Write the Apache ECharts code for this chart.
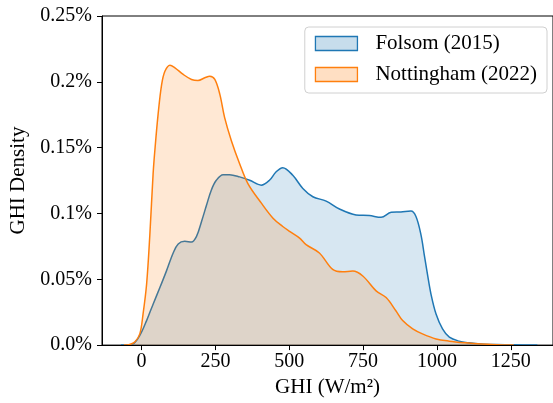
<!DOCTYPE html>
<html>
<head>
<meta charset="utf-8">
<script src="https://cdn.jsdelivr.net/npm/echarts@6/dist/echarts.min.js"></script>
<style>
  html, body { margin: 0; padding: 0; background: #fff; }
  #chart { width: 553px; height: 403px; }
</style>
</head>
<body>
<div id="chart"></div>
<script>
// GHI kernel density estimates (density in %, per W/m²)
const folsomGHI = [-70, -50, -28, -6, 17, 39, 62, 84, 107, 124, 146, 169, 186, 203, 220, 236, 253, 276, 298, 332, 366, 405, 433, 455, 478, 512, 546, 580, 625, 670, 726, 771, 811, 845, 878, 912, 929, 946, 957, 968, 980, 997, 1019, 1042, 1075, 1109, 1150, 1200, 1260, 1340];
const folsomDensity = [0, 0.0002, 0.001, 0.0073, 0.0186, 0.0311, 0.0437, 0.0562, 0.070, 0.0768, 0.0788, 0.0783, 0.0826, 0.0939, 0.1064, 0.1177, 0.1252, 0.1295, 0.1295, 0.1278, 0.1252, 0.1215, 0.1252, 0.1315, 0.1348, 0.129, 0.119, 0.1127, 0.1094, 0.1034, 0.0989, 0.0984, 0.0971, 0.1009, 0.1012, 0.1019, 0.0977, 0.0838, 0.0688, 0.0537, 0.0386, 0.0236, 0.0123, 0.006, 0.003, 0.0017, 0.0008, 0.0004, 0.0002, 0];

const nottinghamGHI = [-60, -40, -23, -6, 5, 17, 28, 39, 45, 56, 68, 79, 96, 113, 141, 169, 191, 214, 231, 248, 265, 281, 304, 332, 360, 405, 445, 478, 501, 535, 557, 602, 647, 681, 715, 749, 794, 828, 861, 884, 918, 951, 997, 1042, 1098, 1150, 1200, 1260];
const nottinghamDensity = [0, 0.0005, 0.0023, 0.0085, 0.0236, 0.0462, 0.0838, 0.130, 0.148, 0.1755, 0.198, 0.208, 0.2126, 0.2106, 0.2056, 0.2018, 0.201, 0.2031, 0.2043, 0.2018, 0.1905, 0.173, 0.1553, 0.1378, 0.1227, 0.108, 0.0964, 0.0901, 0.0864, 0.0813, 0.0763, 0.070, 0.0575, 0.0557, 0.0562, 0.0525, 0.0412, 0.0361, 0.0261, 0.0186, 0.0123, 0.0085, 0.0047, 0.003, 0.0017, 0.0008, 0.0003, 0];

const seriesNames = ['Folsom (2015)', 'Nottingham (2022)'];
const xTicks = [0, 250, 500, 750, 1000, 1250];
const yTickLabels = ['0.0%', '0.05%', '0.1%', '0.15%', '0.2%', '0.25%'];

const FONT = "'Liberation Serif', 'Times New Roman', serif";
const blue = '#1f77b4', orange = '#ff7f0e';
const blueFill = 'rgba(31,119,180,0.25)', orangeFill = 'rgba(255,127,14,0.25)';

const pairs = (xs, ys) => xs.map((x, i) => [x, ys[i]]);

const chart = echarts.init(document.getElementById('chart'), null, { renderer: 'canvas' });

chart.setOption({
  animation: false,
  backgroundColor: '#fff',
  textStyle: { fontFamily: FONT },
  grid: {
    left: 102, top: 16, bottom: 55, right: -2,
    show: true, borderColor: '#000', borderWidth: 1, backgroundColor: 'transparent'
  },
  legend: {
    orient: 'vertical',
    right: 6, top: 27,
    padding: [6, 10, 8, 10],
    itemGap: 10,
    itemWidth: 42, itemHeight: 14,
    icon: 'rect',
    borderColor: '#d0d0d0', borderWidth: 1, borderRadius: 4,
    backgroundColor: 'rgba(255,255,255,0.8)',
    textStyle: { fontFamily: FONT, fontSize: 21, color: '#000', padding: [0, 0, 0, 13] },
    data: [
      { name: seriesNames[0], itemStyle: { color: blueFill, borderColor: blue, borderWidth: 1.3 } },
      { name: seriesNames[1], itemStyle: { color: orangeFill, borderColor: orange, borderWidth: 1.3 } }
    ]
  },
  xAxis: {
    type: 'value',
    min: -134, max: 1393,
    z: 10,
    name: 'GHI (W/m²)',
    nameLocation: 'middle',
    nameGap: 30,
    nameTextStyle: { fontFamily: FONT, fontSize: 21, color: '#000' },
    axisLine: { show: true, onZero: false, lineStyle: { color: '#000', width: 1 } },
    axisTick: { show: true, length: 5, customValues: xTicks, lineStyle: { color: '#000' } },
    axisLabel: {
      customValues: xTicks, margin: 7, fontFamily: FONT, fontSize: 20, color: '#000',
      formatter: (v) => String(v)
    },
    splitLine: { show: false }
  },
  yAxis: {
    type: 'value',
    min: 0, max: 0.25, interval: 0.05,
    z: 10,
    name: 'GHI Density',
    nameLocation: 'middle',
    nameGap: 69,
    nameTextStyle: { fontFamily: FONT, fontSize: 21, color: '#000' },
    axisLine: { show: true, onZero: false, lineStyle: { color: '#000', width: 1 } },
    axisTick: { show: true, length: 5, lineStyle: { color: '#000' } },
    axisLabel: {
      margin: 10, fontFamily: FONT, fontSize: 20, color: '#000',
      formatter: (v) => yTickLabels[Math.round(v / 0.05)]
    },
    splitLine: { show: false }
  },
  series: [
    {
      name: seriesNames[0], type: 'line', smooth: 0.35, showSymbol: false, z: 2,
      data: pairs(folsomGHI, folsomDensity),
      itemStyle: { color: blue },
      lineStyle: { color: blue, width: 1.5 },
      areaStyle: { color: blueFill }
    },
    {
      name: seriesNames[1], type: 'line', smooth: 0.35, showSymbol: false, z: 3,
      data: pairs(nottinghamGHI, nottinghamDensity),
      itemStyle: { color: orange },
      lineStyle: { color: orange, width: 1.5 },
      areaStyle: { color: orangeFill }
    }
  ]
});
</script>
</body>
</html>
